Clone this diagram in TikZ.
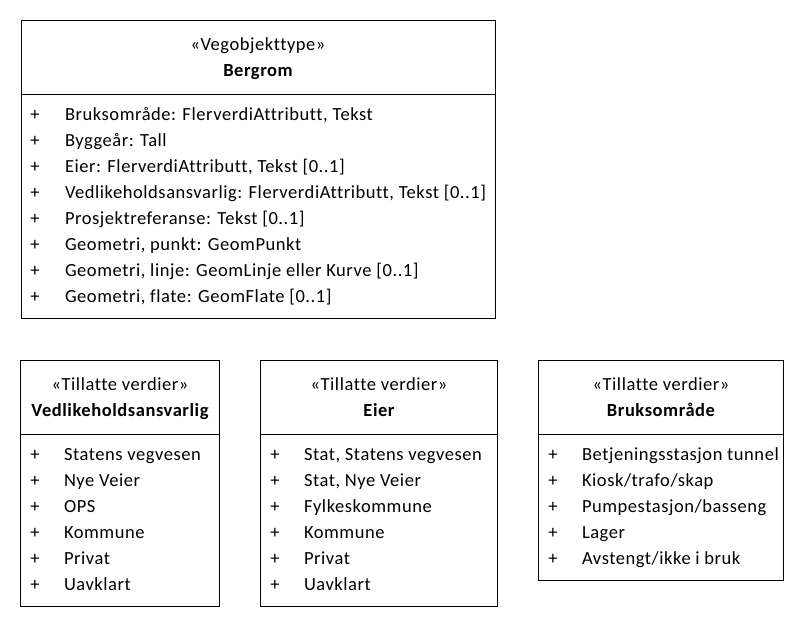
\documentclass[tikz,border=0pt]{standalone}
\usepackage{fontspec}
\setmainfont[LetterSpace=3.0,Ligatures={NoCommon}]{Carlito}
\begin{document}
\begin{tikzpicture}[x=1pt,y=-1pt,
  classbox/.style={draw, line width=0.9pt, anchor=north west, inner sep=0pt, outer sep=0pt},
  uml/.style={anchor=base, inner sep=0pt, outer sep=0pt, font=\fontsize{18.5}{22}\selectfont},
  stereo/.style={uml},
  cname/.style={uml, font=\fontsize{18.5}{22}\selectfont\bfseries},
  plus/.style={uml},
  item/.style={uml, anchor=base west},
  divider/.style={line width=0.9pt}]
\useasboundingbox (0,0) rectangle (804,628);

% ---- Bergrom ----
\node[classbox, minimum width=474pt, minimum height=298pt] (bergrom) at (21,20.7) {};
\draw[divider] ([yshift=-74pt]bergrom.north west) -- ([yshift=-74pt]bergrom.north east);
\node[stereo] (bergrom-st) at (258,51) {«Vegobjekttype»};
\node[cname] (bergrom-nm) at (258,77) {Bergrom};
\foreach \t [count=\i from 0] in {%
  {Bruksområde: FlerverdiAttributt, Tekst},
  {Byggeår: Tall},
  {Eier: FlerverdiAttributt, Tekst [0..1]},
  {Vedlikeholdsansvarlig: FlerverdiAttributt, Tekst [0..1]},
  {Prosjektreferanse: Tekst [0..1]},
  {Geometri, punkt: GeomPunkt},
  {Geometri, linje: GeomLinje eller Kurve [0..1]},
  {Geometri, flate: GeomFlate [0..1]}} {
  \node[plus] (bergrom-p\i) at (35,120.7+26*\i) {+};
  \node[item] (bergrom-a\i) at (65,120.7+26*\i) {\t};
}

% ---- Vedlikeholdsansvarlig ----
\node[classbox, minimum width=198.6pt, minimum height=246pt] (vedl) at (20.7,360.7) {};
\draw[divider] ([yshift=-74pt]vedl.north west) -- ([yshift=-74pt]vedl.north east);
\node[stereo] (vedl-st) at (120,391) {«Tillatte verdier»};
\node[cname] (vedl-nm) at (120,417) {Vedlikeholdsansvarlig};
\foreach \t [count=\i from 0] in {Statens vegvesen, Nye Veier, OPS, Kommune, Privat, Uavklart} {
  \node[plus] (vedl-p\i) at (35,460.7+26*\i) {+};
  \node[item] (vedl-a\i) at (64,460.7+26*\i) {\t};
}

% ---- Eier ----
\node[classbox, minimum width=236.6pt, minimum height=246pt] (eier) at (260.7,360.7) {};
\draw[divider] ([yshift=-74pt]eier.north west) -- ([yshift=-74pt]eier.north east);
\node[stereo] (eier-st) at (379,391) {«Tillatte verdier»};
\node[cname] (eier-nm) at (379,417) {Eier};
\foreach \t [count=\i from 0] in {{Stat, Statens vegvesen}, {Stat, Nye Veier}, Fylkeskommune, Kommune, Privat, Uavklart} {
  \node[plus] (eier-p\i) at (275,460.7+26*\i) {+};
  \node[item] (eier-a\i) at (304,460.7+26*\i) {\t};
}

% ---- Bruksområde ----
\node[classbox, minimum width=245pt, minimum height=220pt] (bruk) at (538.3,360.7) {};
\draw[divider] ([yshift=-74pt]bruk.north west) -- ([yshift=-74pt]bruk.north east);
\node[stereo] (bruk-st) at (661,391) {«Tillatte verdier»};
\node[cname] (bruk-nm) at (661,417) {Bruksområde};
\foreach \t [count=\i from 0] in {Betjeningsstasjon tunnel, Kiosk/trafo/skap, Pumpestasjon/basseng, Lager, Avstengt/ikke i bruk} {
  \node[plus] (bruk-p\i) at (553,460.7+26*\i) {+};
  \node[item] (bruk-a\i) at (582,460.7+26*\i) {\t};
}
\end{tikzpicture}
\end{document}
